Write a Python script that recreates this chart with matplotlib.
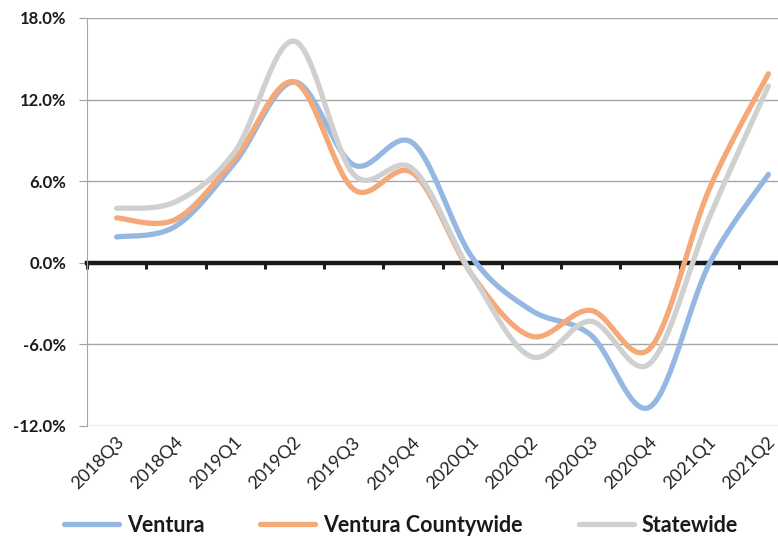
import numpy as np
import matplotlib
matplotlib.use("Agg")
import matplotlib.pyplot as plt
from matplotlib.ticker import FuncFormatter

quarters = ["2018Q3", "2018Q4", "2019Q1", "2019Q2", "2019Q3", "2019Q4",
            "2020Q1", "2020Q2", "2020Q3", "2020Q4", "2021Q1", "2021Q2"]
ventura = [1.9, 2.7, 7.4, 13.3, 7.2, 8.8, 0.4, -3.5, -5.3, -10.6, -0.1, 6.5]
countywide = [3.3, 3.2, 7.7, 13.3, 5.4, 6.6, -0.9, -5.4, -3.5, -6.3, 5.4, 13.9]
statewide = [4.0, 4.5, 8.2, 16.3, 6.5, 6.9, -0.9, -6.9, -4.3, -7.4, 3.3, 13.0]

series = [("Ventura", ventura, "#95B8E2"),
          ("Ventura Countywide", countywide, "#F5A878"),
          ("Statewide", statewide, "#D0D0D0")]

plt.rcParams["font.family"] = ["Lato", "DejaVu Sans"]


def smooth(x, y, n=30):
    # Excel-style smoothed line: bezier through points, controls from neighbours
    x = np.asarray(x, float); y = np.asarray(y, float)
    px = np.concatenate([[x[0]], x, [x[-1]]])
    py = np.concatenate([[y[0]], y, [y[-1]]])
    t = np.linspace(0, 1, n)[:, None]
    xs, ys = [], []
    for i in range(1, len(x)):
        p0 = np.array([px[i], py[i]]); p3 = np.array([px[i + 1], py[i + 1]])
        c1 = p0 + (np.array([px[i + 1], py[i + 1]]) - np.array([px[i - 1], py[i - 1]])) / 6
        c2 = p3 - (np.array([px[i + 2], py[i + 2]]) - np.array([px[i], py[i]])) / 6
        pts = ((1 - t) ** 3) * p0 + 3 * ((1 - t) ** 2) * t * c1 + 3 * (1 - t) * t ** 2 * c2 + t ** 3 * p3
        xs.append(pts[:, 0]); ys.append(pts[:, 1])
    return np.concatenate(xs), np.concatenate(ys)


fig = plt.figure(figsize=(7.78, 5.37), dpi=100)
ax = fig.add_axes([87 / 778, 1 - 426 / 537, (798 - 87) / 778, (426 - 18) / 537])

xpos = np.arange(len(quarters))
for name, vals, color in series:
    sx, sy = smooth(xpos, vals)
    ax.plot(sx, sy, color=color, lw=3.8, solid_capstyle="round", label=name, zorder=3)

ax.set_xlim(-0.5, len(quarters) - 0.5)
ax.set_ylim(-12, 18)
ax.set_yticks(np.arange(-12, 19, 6))
ax.yaxis.set_major_formatter(FuncFormatter(lambda v, p: f"{v:.1f}%"))
ax.tick_params(axis="y", length=6, color="#A0A0A0", labelsize=12, pad=9,
               labelcolor="#1A1A1A")
for lab in ax.get_yticklabels():
    lab.set_fontweight("bold")
ax.grid(axis="y", color="#A6A6A6", lw=1)
ax.set_axisbelow(True)

for s in ("top", "right"):
    ax.spines[s].set_visible(False)
ax.spines["left"].set_color("#A6A6A6")
ax.spines["bottom"].set_position(("data", 0))
ax.spines["bottom"].set_color("#1A1A1A")
ax.spines["bottom"].set_linewidth(3.2)
ax.spines["bottom"].set_zorder(2)
ax.set_xticks(xpos - 0.5)
ax.set_xticklabels([])
ax.tick_params(axis="x", length=4, width=2.2, color="#1A1A1A", direction="out")

for i, q in enumerate(quarters):
    ax.text(i - 0.02, -0.02, q, transform=ax.get_xaxis_transform(), rotation=45,
            ha="right", va="top", rotation_mode="anchor", fontsize=13, color="#222222")

fig.legend(loc="center left", bbox_to_anchor=(64 / 778, 1 - 525 / 537), ncol=3,
           frameon=False, prop={"weight": "bold", "size": 15.5}, handlelength=2.55,
           handletextpad=0.37, columnspacing=2.6, borderpad=0, borderaxespad=0,
           labelcolor="#1A1A1A")

fig.savefig("out.png", dpi=100)
